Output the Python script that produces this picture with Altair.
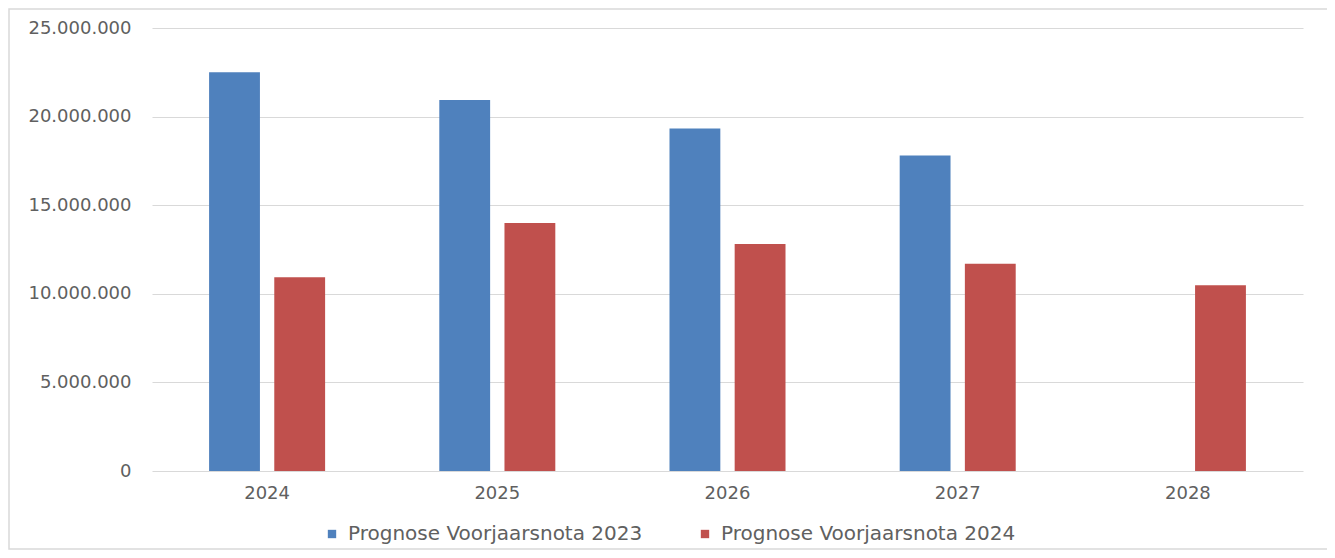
import altair as alt
import pandas as pd

years = ["2024", "2025", "2026", "2027", "2028"]
series_2023 = "Prognose Voorjaarsnota 2023"
series_2024 = "Prognose Voorjaarsnota 2024"
values_2023 = [22500000, 20930000, 19330000, 17800000, None]
values_2024 = [10940000, 14000000, 12810000, 11690000, 10480000]
y_ticks = [0, 5000000, 10000000, 15000000, 20000000, 25000000]

rows = []
for yr, v in zip(years, values_2023):
    if v is not None:
        rows.append({"year": yr, "series": series_2023, "value": v})
for yr, v in zip(years, values_2024):
    if v is not None:
        rows.append({"year": yr, "series": series_2024, "value": v})
df = pd.DataFrame(rows)

FONT = "DejaVu Sans"
GREY = "#606060"
W, H = 1151, 443

bars = alt.Chart(df).mark_bar().encode(
    x=alt.X("year:N", sort=years,
            scale=alt.Scale(paddingInner=0.496, paddingOuter=0.248),
            axis=alt.Axis(title=None, labelAngle=0, domain=False, ticks=False,
                          labelPadding=13, labelFont=FONT, labelFontSize=18,
                          labelColor=GREY, grid=False)),
    xOffset=alt.XOffset("series:N", sort=[series_2023, series_2024],
                        scale=alt.Scale(paddingInner=0.22, paddingOuter=0)),
    y=alt.Y("value:Q", scale=alt.Scale(domain=[0, 25000000], nice=False),
            axis=alt.Axis(title=None, values=y_ticks, domain=False, ticks=False,
                          labelPadding=21, labelFont=FONT, labelFontSize=18,
                          labelColor=GREY, gridColor="#D9D9D9", gridWidth=1,
                          labelExpr="replace(format(datum.value, ',d'), /,/g, '.')")),
    color=alt.Color("series:N", sort=[series_2023, series_2024],
                    scale=alt.Scale(domain=[series_2023, series_2024],
                                    range=["#4F81BD", "#C0504D"]),
                    legend=alt.Legend(title=None, orient="none", direction="horizontal",
                                      legendX=170, legendY=496,
                                      symbolType="square", symbolSize=70,
                                      symbolStrokeWidth=0,
                                      labelFont=FONT, labelFontSize=20, labelColor=GREY,
                                      labelLimit=500, columnPadding=52, labelOffset=6)),
)

border = alt.Chart(pd.DataFrame({"a": [0]})).mark_rect(
    fill="transparent", stroke="#D9D9D9", strokeWidth=1.5
).encode(
    x=alt.value(-143), x2=alt.value(1177),
    y=alt.value(-19), y2=alt.value(521),
)

chart = alt.layer(border, bars).properties(
    width=W, height=H,
    autosize=alt.AutoSizeParams(type="none"),
    padding={"left": 144, "top": 20, "right": 24, "bottom": 79},
    background="white",
).configure_view(strokeWidth=0, stroke="transparent")

chart.save("out.html", embed_options={"renderer": "svg", "actions": False})
